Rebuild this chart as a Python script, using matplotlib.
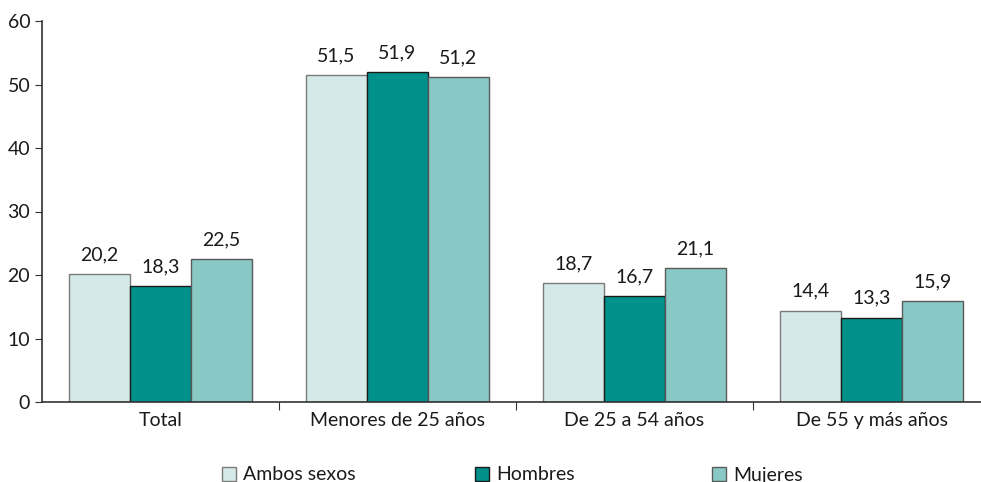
import matplotlib
matplotlib.use("Agg")
import matplotlib.pyplot as plt
import numpy as np
from matplotlib.patches import Patch

plt.rcParams['font.family'] = ['Lato', 'DejaVu Sans']

categories = ["Total", "Menores de 25 años", "De 25 a 54 años", "De 55 y más años"]
series_names = ["Ambos sexos", "Hombres", "Mujeres"]
ambos = [20.2, 51.5, 18.7, 14.4]
hombres = [18.3, 51.9, 16.7, 13.3]
mujeres = [22.5, 51.2, 21.1, 15.9]
colors = ["#D5EAE8", "#00918A", "#88C9C5"]
edges = ["#7a7a7a", "#1a1a1a", "#5a5a5a"]

FS = 14

fig = plt.figure(figsize=(9.81, 4.82), dpi=100)
ax = fig.add_axes([42/981, 80/482, 948/981, 381/482])

x = np.arange(len(categories))
w = 0.257
data = [ambos, hombres, mujeres]
for i, (vals, c, ec) in enumerate(zip(data, colors, edges)):
    pos = x + (i - 1) * w
    ax.bar(pos, vals, width=w, color=c, edgecolor=ec, linewidth=1, zorder=2)
    for xp, v in zip(pos, vals):
        ax.text(xp, v + 1.7, f"{v:.1f}".replace(".", ","), ha="center", va="bottom",
                fontsize=FS, color="#1a1a1a")

ax.set_xlim(-0.5, len(categories) - 0.5)
ax.set_ylim(0, 60)
ax.set_yticks(np.arange(0, 61, 10))
ax.set_xticks(np.arange(0.5, len(categories) - 0.5, 1))
ax.set_xticklabels([])
ax.set_xticks(x, minor=True)
ax.set_xticklabels(categories, minor=True)
ax.tick_params(axis='x', which='minor', length=0, pad=7, labelsize=FS, labelcolor="#1a1a1a")
ax.tick_params(axis='x', which='major', length=6, direction='out', color="#333333")
ax.tick_params(axis='y', length=5, direction='out', labelsize=FS, labelcolor="#1a1a1a", color="#333333")
for s in ["top", "right"]:
    ax.spines[s].set_visible(False)
for s in ["left", "bottom"]:
    ax.spines[s].set_color("#333333")
    ax.spines[s].set_linewidth(1.2)

legend_x = [222, 475, 712]
for name, c, ec, lx in zip(series_names, colors, edges, legend_x):
    h = Patch(facecolor=c, edgecolor=ec, linewidth=1)
    fig.legend([h], [name], loc="center left", bbox_to_anchor=(lx/981, 7/482),
               frameon=False, fontsize=FS, handlelength=0.7, handleheight=0.7,
               handletextpad=0.4, borderpad=0, borderaxespad=0, labelcolor="#1a1a1a")

fig.savefig("out.png", dpi=100)
